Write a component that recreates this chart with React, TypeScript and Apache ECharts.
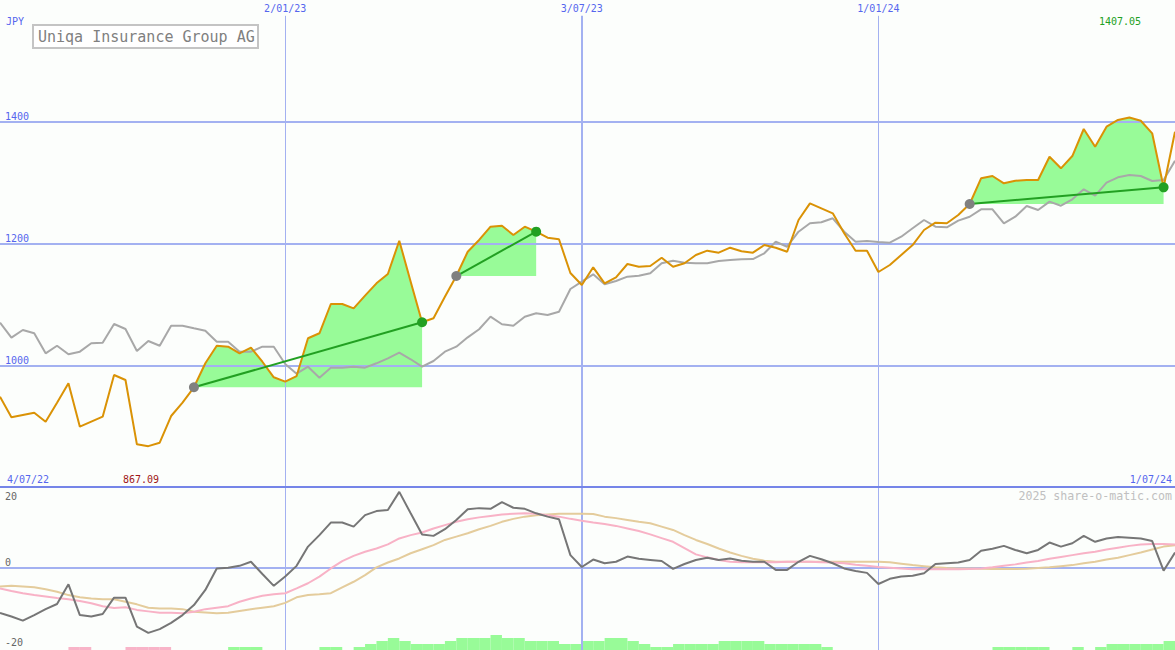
import React, { useEffect, useRef } from 'react';
import * as echarts from 'echarts';

// ---- data ----
const weeks = Array.from({ length: 104 }, (_, i) => `W${i}`);
const intervals = weeks.slice(0, 103);

const closes = [
  948.3, 914.5, 918.3, 922.1, 907.3, 938.5, 970.3, 899.1, 907.3, 915.5,
  984.0, 975.8, 870.1, 867.09, 872.8, 916.6, 938.5, 963.8, 1003.2, 1032.1,
  1030.5, 1019.6, 1028.8, 1005.8, 980.2, 973.0, 982.3, 1044.3, 1052.5, 1100.6,
  1100.6, 1093.5, 1114.3, 1134.6, 1149.9, 1204.6, 1137.3, 1070.6, 1077.1, 1112.6,
  1146.6, 1186.5, 1205.8, 1227.6, 1229.2, 1213.9, 1227.6, 1219.4, 1209.5, 1206.9,
  1151.5, 1131.8, 1160.9, 1134.6, 1144.5, 1166.3, 1161.9, 1163.0, 1176.7, 1161.9,
  1167.5, 1181.1, 1188.2, 1184.9, 1193.1, 1187.2, 1184.9, 1197.5, 1193.1, 1186.5,
  1238.6, 1266.0, 1257.8, 1249.6, 1216.8, 1188.2, 1188.2, 1153.2, 1164.7, 1181.1,
  1197.5, 1222.2, 1234.2, 1233.2, 1246.8, 1264.9, 1307.1, 1310.9, 1298.9, 1303.2,
  1304.3, 1304.3, 1342.6, 1323.5, 1343.7, 1388.1, 1359.0, 1391.9, 1402.9, 1407.05,
  1401.7, 1381.0, 1292.3, 1383.7,
];

const benchmark = [
  1069.9, 1045.3, 1057.9, 1052.5, 1019.6, 1032.1, 1018.0, 1022.3, 1036.1, 1037.0,
  1067.8, 1059.6, 1023.4, 1039.8, 1032.1, 1065.0, 1065.0, 1060.7, 1056.8, 1038.7,
  1038.7, 1022.3, 1022.3, 1030.5, 1030.5, 1002.1, 986.1, 997.6, 979.6, 996.0,
  996.0, 997.6, 996.0, 1003.2, 1011.4, 1020.6, 1009.8, 997.6, 1007.0, 1022.3,
  1030.5, 1045.9, 1059.1, 1079.8, 1067.3, 1065.0, 1079.8, 1085.3, 1082.6, 1088.0,
  1125.3, 1137.3, 1149.4, 1133.0, 1138.4, 1145.5, 1147.1, 1151.0, 1167.5, 1171.7,
  1168.5, 1167.5, 1167.5, 1171.3, 1172.9, 1174.0, 1174.5, 1183.9, 1202.9, 1194.7,
  1219.4, 1233.2, 1234.8, 1241.4, 1219.4, 1202.9, 1204.1, 1202.5, 1201.3, 1211.2,
  1225.0, 1238.6, 1227.6, 1226.6, 1237.5, 1244.0, 1256.2, 1256.2, 1233.2, 1244.0,
  1261.6, 1255.0, 1268.7, 1262.1, 1272.6, 1289.0, 1278.5, 1299.9, 1308.7, 1312.5,
  1310.9, 1302.7, 1304.3, 1336.0,
];

const momentum = [
  -12.2, -13.2, -14.3, -12.8, -11.2, -9.8, -4.5, -12.8, -13.2, -12.5,
  -8.1, -8.1, -15.9, -17.6, -16.6, -14.9, -12.8, -10.1, -6.0, -0.2,
  0, 0.5, 1.6, -1.7, -4.9, -2.4, 0.5, 5.7, 8.8, 12.2,
  12.2, 11.1, 14.2, 15.3, 15.6, 20.5, 14.7, 9.0, 8.6, 10.4,
  12.9, 15.8, 16.1, 15.9, 17.7, 16.2, 15.9, 14.7, 13.8, 13.1,
  3.4, 0.2, 2.2, 1.2, 1.6, 3.0, 2.4, 2.1, 1.8, -0.3,
  1.0, 2.1, 2.7, 2.1, 2.5, 1.9, 1.6, 1.6, -0.6, -0.6,
  1.6, 3.2, 2.3, 1.2, -0.2, -0.9, -1.4, -4.4, -3.0, -2.4,
  -2.2, -1.5, 1.0, 1.2, 1.4, 2.1, 4.6, 5.1, 5.9, 4.8,
  3.9, 4.8, 6.8, 5.7, 6.6, 8.6, 7.0, 7.9, 8.3, 8.1,
  7.9, 7.2, -0.8, 4.1,
];

const signalFast = [
  -5.6, -6.3, -6.9, -7.4, -7.8, -8.2, -8.5, -9.0, -9.6, -10.4,
  -10.9, -10.7, -11.4, -11.8, -12.2, -12.2, -12.3, -11.9, -11.2, -10.8,
  -10.4, -9.2, -8.3, -7.6, -7.2, -6.9, -5.6, -4.2, -2.4, -0.2,
  1.8, 3.2, 4.3, 5.2, 6.3, 7.9, 8.8, 9.5, 10.6, 11.5,
  12.4, 13.1, 13.6, 14.0, 14.4, 14.6, 14.7, 14.6, 14.2, 13.8,
  13.2, 12.7, 12.2, 11.8, 11.3, 10.6, 9.9, 9.0, 8.0, 7.0,
  5.3, 3.6, 2.8, 2.1, 1.6, 1.5, 1.5, 1.5, 1.5, 1.6,
  1.6, 1.6, 1.5, 1.4, 1.2, 0.8, 0.5, 0.2, 0.0, -0.2,
  -0.4, -0.4, -0.4, -0.4, -0.4, -0.35, -0.2, 0.1, 0.5, 0.9,
  1.4, 1.8, 2.4, 2.9, 3.4, 3.9, 4.3, 4.9, 5.4, 5.9,
  6.3, 6.4, 6.4, 6.3,
];

const signalSlow = [
  -5.1, -4.9, -5.1, -5.3, -5.8, -6.5, -7.4, -8.0, -8.3, -8.5,
  -8.5, -9.2, -9.9, -10.8, -11.0, -11.0, -11.2, -11.9, -12.1, -12.3,
  -12.2, -11.7, -11.2, -10.8, -10.4, -9.5, -8.0, -7.4, -7.2, -6.9,
  -5.3, -3.8, -2.0, 0.1, 1.4, 2.5, 3.9, 5.0, 6.1, 7.5,
  8.4, 9.3, 10.4, 11.3, 12.4, 13.2, 13.8, 14.2, 14.4, 14.6,
  14.6, 14.6, 14.5, 13.8, 13.4, 12.9, 12.4, 12.0, 11.1, 10.2,
  8.8, 7.5, 6.4, 5.2, 4.1, 3.2, 2.4, 1.9, 1.6, 1.6,
  1.6, 1.6, 1.6, 1.6, 1.6, 1.6, 1.6, 1.6, 1.5, 1.1,
  0.7, 0.4, 0.1, -0.1, -0.2, -0.2, -0.3, -0.35, -0.35, -0.35,
  -0.3, -0.1, 0.1, 0.4, 0.7, 1.2, 1.6, 2.2, 2.7, 3.4,
  4.1, 4.9, 5.7, 6.1,
];

// histogram levels per week interval (negative = pink)
const histLevels = [
  0, 0, 0, 0, 0, 0, -1, -1, 0, 0,
  0, -1, -1, -1, -1, 0, 0, 0, 0, 0,
  1, 1, 1, 0, 0, 0, 0, 0, 1, 1,
  0, 1, 2, 3, 4, 3, 2, 2, 2, 3,
  4, 4, 4, 5, 4, 4, 3, 3, 3, 2,
  2, 3, 3, 4, 4, 3, 2, 1, 1, 2,
  2, 2, 2, 3, 3, 3, 3, 2, 2, 2,
  2, 2, 1, 0, 0, 0, 0, 0, 0, 0,
  0, 0, 0, 0, 0, 0, 0, 1, 1, 1,
  1, 1, 0, 0, 1, 0, 1, 2, 2, 2,
  2, 2, 3,
];

const trades = [
  { entry: 17, exit: 37 },
  { entry: 40, exit: 47 },
  { entry: 85, exit: 102 },
];

const dateMarks = [
  { idx: 25, label: '2/01/23' },
  { idx: 51, label: '3/07/23' },
  { idx: 77, label: '1/01/24' },
];

const title = 'Uniqa Insurance Group AG';
const currency = 'JPY';
const startLabel = '4/07/22';
const endLabel = '1/07/24';
const minLabel = '867.09';
const maxLabel = '1407.05';
const oscLabels = ['20', '0', '-20'];
const credit = '2025 share-o-matic.com';

// ---- styles ----
const mono = '"DejaVu Sans Mono", monospace';
const gridBlue = '#a3b1f1';
const labelBlue = '#5566ee';
const fillGreen = '#98fb98';
const tradeGreen = '#22a022';

export default function App() {
  const ref = useRef<HTMLDivElement>(null);

  useEffect(() => {
    document.body.style.margin = '0';
    const chart = echarts.init(ref.current as HTMLDivElement, null, { renderer: 'svg' });

    const fillSeries: any[] = [];
    trades.forEach((t, k) => {
      const base = closes.map((_, i) => (i >= t.entry && i <= t.exit ? closes[t.entry] : null));
      const gain = closes.map((v, i) => (i >= t.entry && i <= t.exit ? v - closes[t.entry] : null));
      fillSeries.push({
        type: 'line', xAxisIndex: 0, yAxisIndex: 0, stack: `t${k}`, data: base,
        symbol: 'none', lineStyle: { opacity: 0, width: 0 }, silent: true, z: 1,
      });
      fillSeries.push({
        type: 'line', xAxisIndex: 0, yAxisIndex: 0, stack: `t${k}`, data: gain,
        symbol: 'none', lineStyle: { opacity: 0, width: 0 },
        areaStyle: { color: fillGreen, opacity: 1 }, silent: true, z: 1,
      });
    });

    const tradeLines = trades.map((t) => ({
      type: 'line', xAxisIndex: 0, yAxisIndex: 0,
      data: closes.map((v, i) =>
        i === t.entry ? { value: v, itemStyle: { color: '#808080' } }
          : i === t.exit ? { value: v, itemStyle: { color: tradeGreen } } : null),
      connectNulls: true, symbol: 'circle', symbolSize: 10, showSymbol: true, showAllSymbol: true,
      lineStyle: { color: tradeGreen, width: 2 }, itemStyle: { color: tradeGreen }, silent: true, z: 6,
    }));

    const text = (t: string, x: number, y: number, fill: string, size: number, align = 'left') => ({
      type: 'text', x, y, z: 11,
      style: { text: t, fill, font: `${size}px ${mono}`, align, verticalAlign: 'middle', textAlign: align, textVerticalAlign: 'middle' },
    });

    const option: any = {
      animation: false,
      backgroundColor: '#fcfefc',
      grid: [
        { left: 0, right: 0, top: 0, height: 487 },
        { left: 0, right: 0, top: 487, height: 163 },
      ],
      xAxis: [
        { type: 'category', data: weeks, boundaryGap: false, gridIndex: 0, show: false },
        {
          type: 'category', data: weeks, boundaryGap: false, gridIndex: 1, position: 'top', z: 4,
          axisLine: { show: true, onZero: false, lineStyle: { color: '#7585e8', width: 2 } },
          axisTick: { show: false }, axisLabel: { show: false }, splitLine: { show: false },
        },
        { type: 'category', data: intervals, boundaryGap: true, gridIndex: 1, show: false },
      ],
      yAxis: [
        {
          type: 'value', gridIndex: 0, min: 800, max: 1600, interval: 200, z: 2,
          axisLine: { show: false }, axisTick: { show: false },
          axisLabel: {
            inside: true, margin: 5, showMinLabel: false, showMaxLabel: false,
            formatter: (v: number) => String(v),
            color: labelBlue, fontFamily: mono, fontSize: 10, verticalAlign: 'bottom',
          },
          splitLine: { show: true, showMinLine: false, showMaxLine: false, lineStyle: { color: gridBlue, width: 2 } },
        },
        { type: 'value', gridIndex: 1, min: -22.24, max: 21.81, show: false },
        { type: 'value', gridIndex: 1, min: 0, max: 54.33, show: false },
      ],
      series: [
        ...fillSeries,
        {
          type: 'line', xAxisIndex: 0, yAxisIndex: 0, data: benchmark, symbol: 'none',
          lineStyle: { color: '#a8a8a8', width: 2 }, silent: true, z: 5,
          markLine: {
            silent: true, symbol: 'none', z: 3,
            label: { show: true, position: 'start', distance: 2, color: labelBlue, fontFamily: mono, fontSize: 10 },
            lineStyle: { color: gridBlue, type: 'solid', width: 1 },
            data: dateMarks.map((m) => [
              {
                xAxis: weeks[m.idx], yAxis: 1574,
                label: { formatter: m.label },
                lineStyle: { width: m.label === '3/07/23' ? 2 : 1 },
              },
              { xAxis: weeks[m.idx], yAxis: 800 },
            ]),
          },
        },
        {
          type: 'line', xAxisIndex: 0, yAxisIndex: 0, data: closes, symbol: 'none',
          lineStyle: { color: '#da9205', width: 2 }, silent: true, z: 5,
        },
        ...tradeLines,
        {
          type: 'bar', xAxisIndex: 2, yAxisIndex: 2, barWidth: '100%', barCategoryGap: 0, silent: true, z: 2,
          data: histLevels.map((v) => ({ value: Math.abs(v), itemStyle: { color: v < 0 ? '#f8b4c8' : fillGreen } })),
        },
        {
          type: 'line', xAxisIndex: 1, yAxisIndex: 1, data: signalSlow, symbol: 'none',
          lineStyle: { color: '#e4cc9c', width: 2 }, silent: true, z: 5,
          markLine: {
            silent: true, symbol: 'none', z: 3, label: { show: false },
            lineStyle: { color: gridBlue, type: 'solid', width: 1 },
            data: [
              ...dateMarks.map((m) => ({ xAxis: weeks[m.idx], lineStyle: { width: m.label === '3/07/23' ? 2 : 1 } })),
              { yAxis: 0, lineStyle: { width: 2 } },
            ],
          },
        },
        {
          type: 'line', xAxisIndex: 1, yAxisIndex: 1, data: signalFast, symbol: 'none',
          lineStyle: { color: '#f8b2c6', width: 2 }, silent: true, z: 5,
        },
        {
          type: 'line', xAxisIndex: 1, yAxisIndex: 1, data: momentum, symbol: 'none',
          lineStyle: { color: '#767676', width: 2 }, silent: true, z: 5,
        },
      ],
      graphic: [
        { type: 'rect', z: 10, shape: { x: 33, y: 25, width: 225, height: 23 }, style: { fill: '#ffffff', stroke: '#c4c4c4', lineWidth: 2 } },
        text(title, 38, 37, '#808080', 15),
        text(currency, 6, 21, labelBlue, 10),
        text(startLabel, 7, 479, labelBlue, 10),
        text(endLabel, 1172, 479, labelBlue, 10, 'right'),
        text(minLabel, 141, 479, '#a01818', 10, 'center'),
        text(maxLabel, 1120, 21, tradeGreen, 10, 'center'),
        text(oscLabels[0], 5, 496, '#666666', 10),
        text(oscLabels[1], 5, 562, '#666666', 10),
        text(oscLabels[2], 5, 642, '#666666', 10),
        text(credit, 1172, 496, '#c0c0c0', 11.6, 'right'),
      ],
    };

    chart.setOption(option);
    return () => chart.dispose();
  }, []);

  return <div ref={ref} style={{ width: 1175, height: 650, position: 'absolute', left: 0, top: 0 }} />;
}
